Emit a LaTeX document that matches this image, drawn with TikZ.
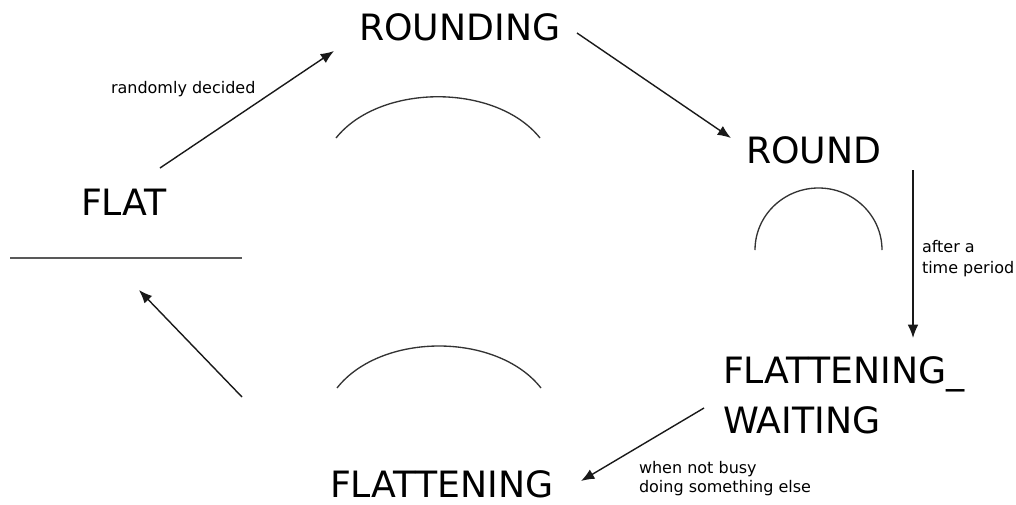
\documentclass[tikz,border=0pt]{standalone}
\usepackage{fontspec}
\setmainfont{DejaVu Sans}
\usetikzlibrary{arrows.meta}
\tikzset{
  state/.style={anchor=base west, inner sep=0pt, outer sep=0pt, font=\fontsize{27.2}{32}\selectfont},
  lbl/.style={anchor=base west, inner sep=0pt, outer sep=0pt, font=\fontsize{12}{14}\selectfont},
  trans/.style={draw=black!90, line width=1.05pt, -{Latex[length=10pt,width=8pt]}},
  shapeline/.style={draw=black!80, line width=1pt}
}
\begin{document}
\begin{tikzpicture}[x=0.75pt,y=-0.75pt]
\useasboundingbox (0,0) rectangle (1016,504);
% state names
\node[state] (rounding) at (359,40) {ROUNDING};
\node[state] (flat) at (81,215) {FLAT};
\node[state] (round) at (746,163) {ROUND};
\node[state] (fw) at (723,383) {\vtop{\baselineskip=37.5pt\hbox{FLATTENING\_}\hbox{WAITING}}};
\node[state] (flattening) at (330,497) {FLATTENING};
% transition labels
\node[lbl] (l1) at (111,93) {randomly decided};
\node[lbl] (l2) at (922,252) {\vtop{\baselineskip=16pt\hbox{after a}\hbox{time period}}};
\node[lbl] (l3) at (639,473) {\vtop{\baselineskip=14.6pt\hbox{when not busy}\hbox{doing something else}}};
% arrow endpoints
\coordinate (a1s) at (160,168); \coordinate (a1e) at (334,51);
\coordinate (a2s) at (577,33);  \coordinate (a2e) at (731,138);
\coordinate (a3s) at (913,170); \coordinate (a3e) at (913,338);
\coordinate (a4s) at (704,408); \coordinate (a4e) at (581,481);
\coordinate (a5s) at (242,397); \coordinate (a5e) at (139,290);
\draw[trans] (a1s) -- (a1e);
\draw[trans] (a2s) -- (a2e);
\draw[trans] (a3s) -- (a3e);
\draw[trans] (a4s) -- (a4e);
\draw[trans] (a5s) -- (a5e);
% shapes
\draw[shapeline, draw=black!65] (10,258) -- (242,258);
\draw[shapeline] (336,138) .. controls (380,83) and (496,83) .. (540,138);
\draw[shapeline] (755,250) arc[start angle=180, end angle=360, x radius=63.5, y radius=62];
\draw[shapeline] (337,388) .. controls (381,332) and (497,332) .. (541,388);
\end{tikzpicture}
\end{document}
